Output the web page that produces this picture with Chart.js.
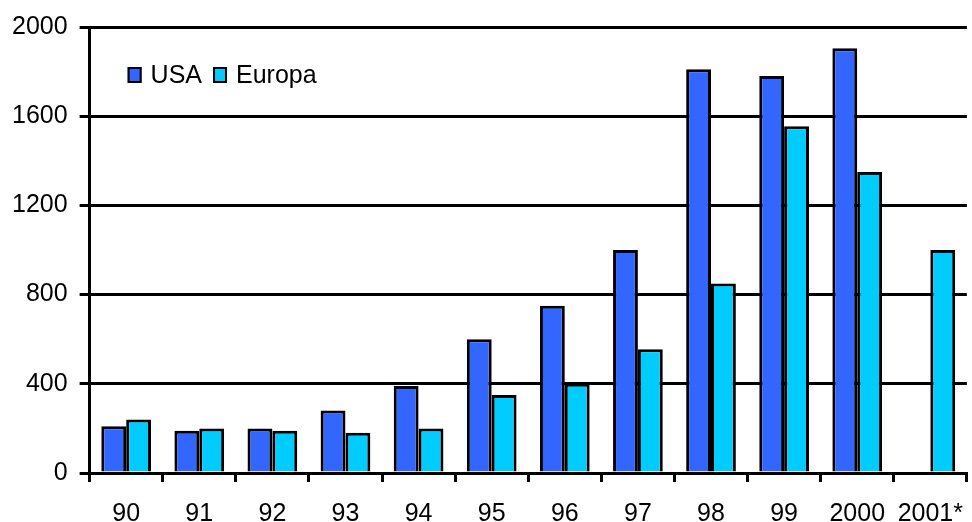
<!DOCTYPE html>
<html>
<head>
<meta charset="utf-8">
<script src="https://cdn.jsdelivr.net/npm/chart.js@4.4.1/dist/chart.umd.min.js"></script>
<style>
  html, body { margin: 0; padding: 0; background: #fff; overflow: hidden; }
  #wrap { width: 980px; height: 546px; position: relative; }
</style>
</head>
<body>
<div id="wrap"><canvas id="chart"></canvas></div>
<script>
// Daten
const years = ['90', '91', '92', '93', '94', '95', '96', '97', '98', '99', '2000', '2001*'];
const usa = [210, 190, 200, 280, 390, 600, 750, 1000, 1810, 1780, 1905, null];
const europa = [240, 200, 190, 180, 200, 350, 400, 555, 850, 1555, 1350, 1000];
const yTicks = [0, 400, 800, 1200, 1600, 2000];

const FONT = "'Liberation Sans', Arial, sans-serif";

// Legende innerhalb der Zeichenfläche (oben links)
const legendInPlot = {
  id: 'legendInPlot',
  afterDatasetsDraw(chart) {
    const ctx = chart.ctx;
    const { left, top } = chart.chartArea;
    let x = left + 38;
    const y = top + 40;
    ctx.save();
    ctx.font = '25px ' + FONT;
    ctx.textBaseline = 'middle';
    chart.data.datasets.forEach(ds => {
      ctx.fillStyle = ds.backgroundColor;
      ctx.fillRect(x, y, 14, 16);
      ctx.strokeStyle = '#000';
      ctx.lineWidth = 2;
      ctx.strokeRect(x + 1, y + 1, 12, 14);
      ctx.fillStyle = '#000';
      ctx.fillText(ds.label, x + 23, y + 9);
      x += 23 + ctx.measureText(ds.label).width + 11;
    });
    ctx.restore();
  }
};

new Chart(document.getElementById('chart'), {
  type: 'bar',
  data: {
    labels: years,
    datasets: [
      { label: 'USA', data: usa, backgroundColor: '#3366FF', borderColor: '#000', borderWidth: 3, borderSkipped: 'bottom' },
      { label: 'Europa', data: europa, backgroundColor: '#00CCFF', borderColor: '#000', borderWidth: 3, borderSkipped: 'bottom' }
    ]
  },
  options: {
    responsive: true,
    maintainAspectRatio: false,
    animation: false,
    categoryPercentage: 0.68,
    barPercentage: 1.0,
    layout: { padding: { top: 6, right: 0, left: 0, bottom: 0 } },
    plugins: {
      legend: { display: false },
      tooltip: { enabled: false }
    },
    scales: {
      x: {
        offset: true,
        grid: { offset: true, drawOnChartArea: false, drawTicks: true, tickLength: 9, color: '#000', lineWidth: 3 },
        border: { display: true, color: '#000', width: 3 },
        ticks: { color: '#000', font: { family: FONT, size: 25 }, padding: 17, maxRotation: 0, autoSkip: false }
      },
      y: {
        min: 0,
        max: 2000,
        afterBuildTicks: axis => { axis.ticks = yTicks.map(v => ({ value: v })); },
        grid: { color: '#000', lineWidth: 3, tickLength: 10 },
        border: { display: true, color: '#000', width: 3 },
        ticks: { color: '#000', font: { family: FONT, size: 25 }, padding: 12, callback: v => String(v) }
      }
    }
  },
  plugins: [legendInPlot]
});
</script>
</body>
</html>
